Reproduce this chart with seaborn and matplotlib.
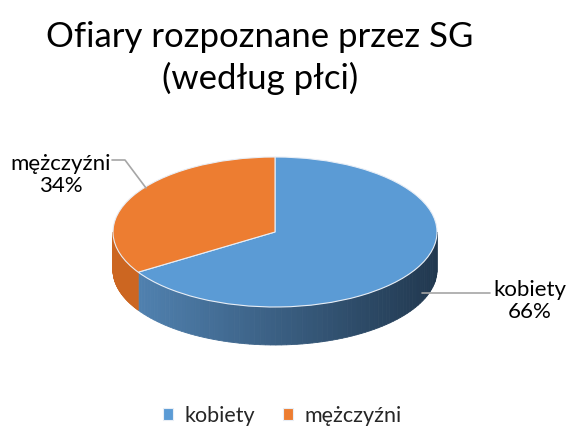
import numpy as np
import matplotlib

matplotlib.use("Agg")

import matplotlib.pyplot as plt
import seaborn as sns
from matplotlib.patches import Polygon

# data
categories = ["kobiety", "mężczyźni"]
shares = [66, 34]
pct_labels = ["66%", "34%"]
title = "Ofiary rozpoznane przez SG\n(według płci)"

# styles
top_colors = ["#5B9BD5", "#ED7D31"]
side_light = [np.array([0.33, 0.53, 0.72]), np.array([0.80, 0.40, 0.13])]
side_dark = [np.array([0.13, 0.22, 0.31]), np.array([0.80, 0.40, 0.13])]

W, H = 570, 428
CX, CY, RX, RY = 275, 232, 162, 75   # ellipse centre / radii in pixels
DEPTH = 38 / RY

sns.set_theme(style="white")
plt.rcParams["font.family"] = ["Lato", "DejaVu Sans"]

fig = plt.figure(figsize=(W / 100, H / 100), dpi=100)
ax = fig.add_axes([0, 0, 1, 1])


def px(x, y):
    return (x - CX) / RX, (CY - y) / RY


# side wall of the 3D pie (front half only, angles -180..0)
fracs = np.array(shares, dtype=float) / sum(shares)
start = 90.0
for frac, light, dark in zip(fracs, side_light, side_dark):
    a_hi = start
    a_lo = start - frac * 360
    start = a_lo
    for shift in (0, -360, 360):
        lo = max(a_lo + shift, -180)
        hi = min(a_hi + shift, 0)
        if hi <= lo:
            continue
        ts = np.radians(np.linspace(lo, hi, 80))
        for t0, t1 in zip(ts[:-1], ts[1:]):
            tm = 0.5 * (t0 + t1)
            k = (np.cos(tm) + 1) / 2
            col = light * (1 - k) + dark * k
            poly = Polygon(
                [(np.cos(t0), np.sin(t0)), (np.cos(t1), np.sin(t1)),
                 (np.cos(t1), np.sin(t1) - DEPTH), (np.cos(t0), np.sin(t0) - DEPTH)],
                closed=True, facecolor=col, edgecolor=col, lw=0.6, zorder=1,
            )
            ax.add_patch(poly)

wedges, _ = ax.pie(
    shares,
    colors=top_colors,
    startangle=90,
    counterclock=False,
    radius=1,
    center=(0, 0),
    wedgeprops={"edgecolor": "#e8eef6", "linewidth": 0.8, "zorder": 2},
)
ax.set_aspect("auto")
ax.set_xlim(-CX / RX, (W - CX) / RX)
ax.set_ylim((CY - H) / RY, CY / RY)
ax.axis("off")

# leader lines
lx, ly = zip(px(112, 160), px(125, 160), px(146, 188))
ax.plot(lx, ly, color="#a6a6a6", lw=1.2, zorder=3)
lx, ly = zip(px(422, 293), px(490, 293))
ax.plot(lx, ly, color="#a6a6a6", lw=1.2, zorder=3)

# data labels
fig.text(530 / W, 1 - 301 / H, f"{categories[0]}\n{pct_labels[0]}",
         ha="center", va="center", fontsize=16, linespacing=1.15, color="#000000")
fig.text(61 / W, 1 - 175 / H, f"{categories[1]}\n{pct_labels[1]}",
         ha="center", va="center", fontsize=16, linespacing=1.15, color="#000000")

fig.text(260 / W, 1 - 58 / H, title, ha="center", va="center",
         fontsize=25, linespacing=1.3, color="#000000")

fig.legend(
    wedges, categories,
    loc="center", bbox_to_anchor=(282 / W, 1 - 416 / H), ncol=2,
    frameon=False, fontsize=15.5, handlelength=0.5, handleheight=0.5,
    handletextpad=0.5, columnspacing=1.3,
)

fig.savefig("out.png", dpi=100)
plt.close(fig)
